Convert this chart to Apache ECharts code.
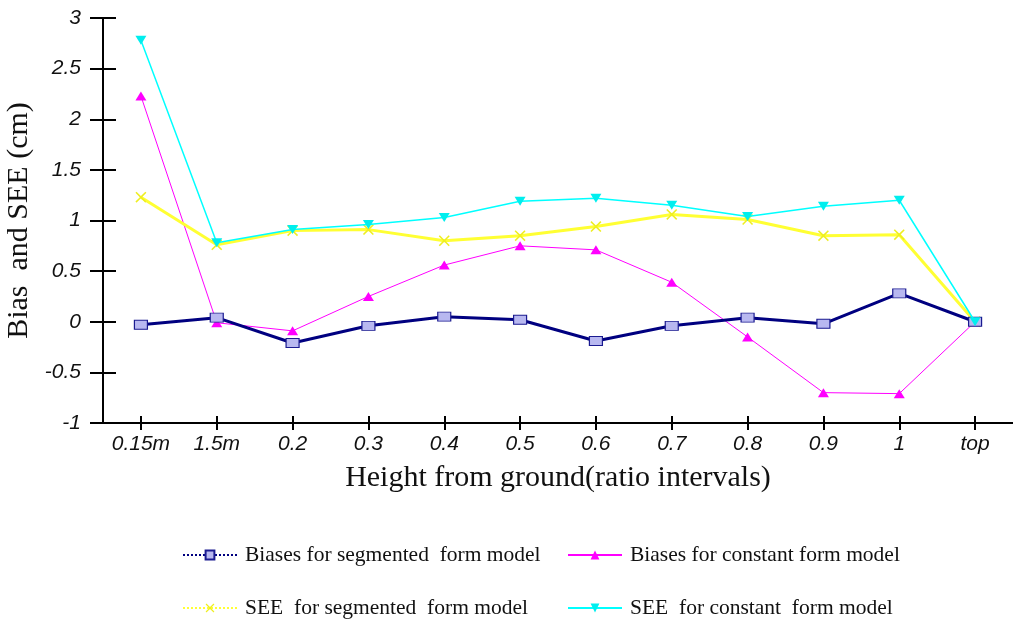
<!DOCTYPE html>
<html>
<head>
<meta charset="utf-8">
<style>
  html, body { margin: 0; padding: 0; background: #fff; }
  #container { width: 1013px; height: 621px; }
</style>
<script src="https://cdn.jsdelivr.net/npm/echarts@6/dist/echarts.min.js"></script>
</head>
<body>
<div id="container"></div>
<script>
var heights = ['0.15m', '1.5m', '0.2', '0.3', '0.4', '0.5', '0.6', '0.7', '0.8', '0.9', '1', 'top'];

var biasSegmented = [-0.03, 0.04, -0.21, -0.04, 0.05, 0.02, -0.19, -0.04, 0.04, -0.02, 0.28, 0];
var biasConstant = [2.23, -0.01, -0.09, 0.25, 0.56, 0.75, 0.71, 0.39, -0.15, -0.70, -0.71, 0];
var seeSegmented = [1.23, 0.76, 0.90, 0.91, 0.80, 0.85, 0.94, 1.06, 1.01, 0.85, 0.86, 0];
var seeConstant = [2.78, 0.78, 0.91, 0.96, 1.03, 1.19, 1.22, 1.15, 1.04, 1.14, 1.20, 0];

var yTicks = { min: -1, max: 3, interval: 0.5 };

var dom = document.getElementById('container');
var myChart = echarts.init(dom);

var crossMark = 'path://M0,1L1,0L5,4L9,0L10,1L6,5L10,9L9,10L5,6L1,10L0,9L4,5Z';
var labelFont = { fontFamily: 'Liberation Sans', fontStyle: 'italic', fontSize: 21, color: '#111' };
var serif = 'Liberation Serif';
var legendText = { fontFamily: serif, fontSize: 21.5, color: '#111', padding: [0, 0, 0, 3] };
var tickStyle = { color: '#000', width: 2 };
// second axes only carry the inner half of the ticks
var hiddenLine = { show: true, onZero: false, lineStyle: { color: 'rgba(0,0,0,0)', width: 0 } };

var option = {
    animation: false,
    backgroundColor: '#fff',
    grid: { left: 103, right: 0, top: 18, bottom: 198, outerBoundsMode: 'none', containLabel: false },
    legend: [{
        orient: 'vertical',
        left: 182,
        top: 544,
        padding: 0,
        itemGap: 31,
        itemWidth: 54,
        itemHeight: 11,
        textStyle: legendText,
        data: [
            { name: 'Biases for segmented  form model', lineStyle: { type: 'dotted', width: 2 } },
            { name: 'SEE  for segmented  form model', lineStyle: { type: 'dotted', width: 2 } }
        ]
    }, {
        orient: 'vertical',
        left: 567,
        top: 544,
        padding: 0,
        itemGap: 31,
        itemWidth: 54,
        itemHeight: 11,
        textStyle: legendText,
        data: ['Biases for constant form model', 'SEE  for constant  form model']
    }],
    xAxis: [{
        type: 'category',
        data: heights,
        boundaryGap: true,
        name: 'Height from ground(ratio intervals)',
        nameLocation: 'middle',
        nameGap: 40,
        nameTextStyle: { fontFamily: serif, fontSize: 30, color: '#111' },
        axisLine: { show: true, onZero: false, lineStyle: { color: '#000', width: 2 } },
        axisTick: { show: true, alignWithLabel: true, interval: 0, length: 7, lineStyle: tickStyle },
        axisLabel: Object.assign({ margin: 11, interval: 0 }, labelFont),
        splitLine: { show: false }
    }, {
        type: 'category',
        data: heights,
        position: 'bottom',
        boundaryGap: true,
        axisLine: hiddenLine,
        axisTick: { show: true, inside: true, alignWithLabel: true, length: 7, interval: 0, lineStyle: tickStyle },
        axisLabel: { show: false, interval: 0 },
        splitLine: { show: false }
    }],
    yAxis: [{
        type: 'value',
        min: yTicks.min,
        max: yTicks.max,
        interval: yTicks.interval,
        name: 'Bias  and SEE (cm)',
        nameLocation: 'middle',
        nameGap: 58,
        nameTextStyle: { fontFamily: serif, fontSize: 30, color: '#111' },
        axisLine: { show: true, onZero: false, lineStyle: { color: '#000', width: 2 } },
        axisTick: { show: true, length: 13, lineStyle: tickStyle },
        axisLabel: Object.assign({ margin: 22 }, labelFont),
        splitLine: { show: false }
    }, {
        type: 'value',
        min: yTicks.min,
        max: yTicks.max,
        interval: yTicks.interval,
        position: 'left',
        axisLine: hiddenLine,
        axisTick: { show: true, inside: true, length: 13, lineStyle: tickStyle },
        axisLabel: { show: false },
        splitLine: { show: false }
    }],
    series: [{
        name: 'Biases for constant form model',
        type: 'line',
        data: biasConstant,
        symbol: 'triangle',
        symbolSize: [11, 9],
        lineStyle: { color: '#ff00ff', width: 1 },
        itemStyle: { color: '#ff00ff' },
        z: 2
    }, {
        name: 'SEE  for segmented  form model',
        type: 'line',
        data: seeSegmented,
        symbol: crossMark,
        symbolSize: 11,
        lineStyle: { color: '#ffff33', width: 3 },
        itemStyle: { color: '#eeee22' },
        z: 2
    }, {
        name: 'Biases for segmented  form model',
        type: 'line',
        data: biasSegmented,
        symbol: 'rect',
        symbolSize: [13, 9],
        lineStyle: { color: '#000080', width: 3 },
        itemStyle: { color: '#b8b8f0', borderColor: '#1a1a90', borderWidth: 1 },
        z: 3
    }, {
        name: 'SEE  for constant  form model',
        type: 'line',
        data: seeConstant,
        symbol: 'triangle',
        symbolRotate: 180,
        symbolSize: [11, 9],
        lineStyle: { color: '#00ffff', width: 1.5 },
        itemStyle: { color: '#00eeee' },
        z: 4
    }]
};

myChart.setOption(option);

window.onresize = function () {
    myChart.resize();
};
</script>
</body>
</html>
